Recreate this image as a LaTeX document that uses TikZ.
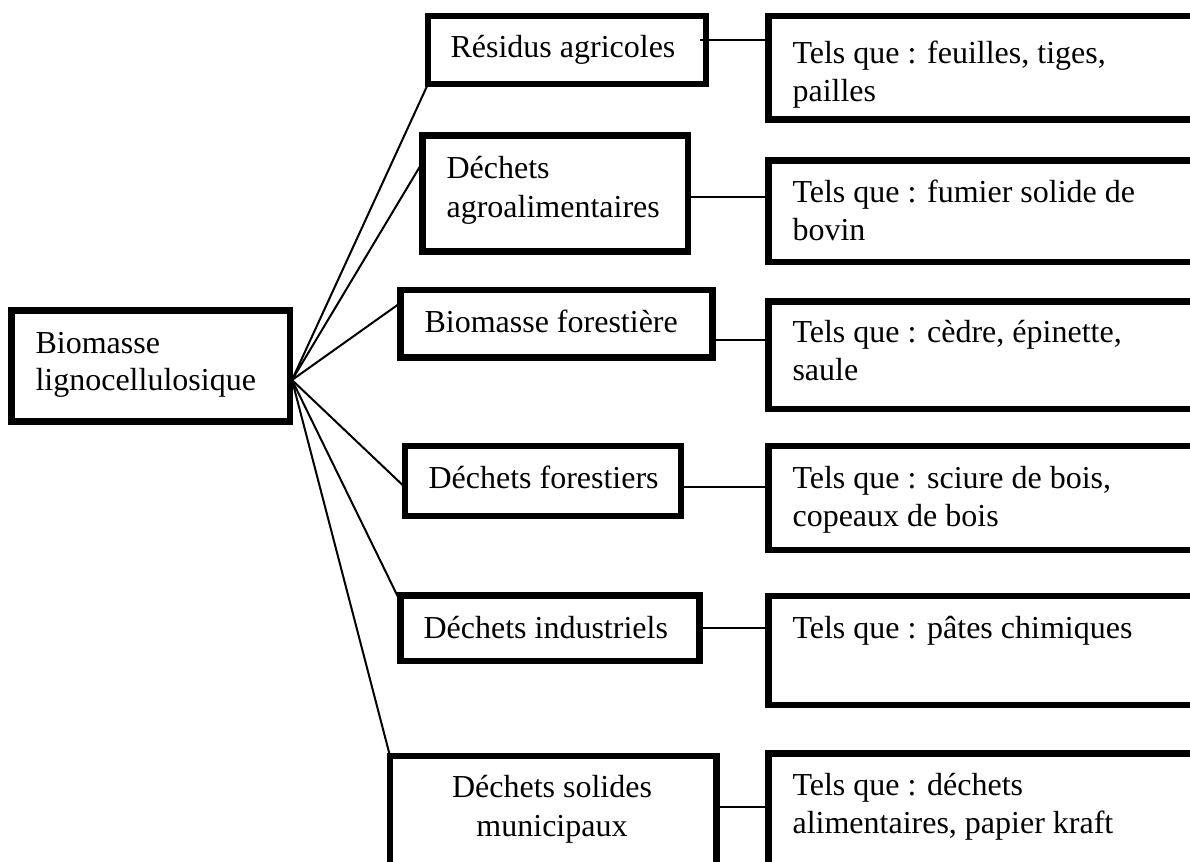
\documentclass[tikz,border=0pt]{standalone}
\usepackage{fontspec}
\setmainfont{Liberation Serif}
\usetikzlibrary{calc}
\begin{document}
\begin{tikzpicture}[x=0.375pt,y=-0.375pt,
  cadre/.style 2 args={draw, line width=2.6pt, anchor=north west,
    inner sep=0pt, outer sep=0pt,
    minimum width=#1*0.375pt, minimum height=#2*0.375pt},
  link/.style={draw, line width=0.75pt},
  txt/.style={inner sep=0pt, anchor=base west, font=\fontsize{12}{14.3}\selectfont},
  txtc/.style={inner sep=0pt, anchor=base, font=\fontsize{12}{14.8}\selectfont}]
\useasboundingbox (0,0) rectangle (1190,861);
\fill[white] (0,0) rectangle (1190,861);
\clip (0,0) rectangle (1190,861);

% root
\node[cadre={278.5}{111}] (main) at (11.5,310.5) {};
\node[txt, font=\fontsize{12}{13.9}\selectfont] (maint) at (35,353)
  {\begin{tabular}[t]{@{}l@{}}Biomasse\\lignocellulosique\end{tabular}};

% categories
\node[cadre={278}{68}]     (r1) at (428,16) {};
\node[cadre={265.5}{116}]  (r2) at (422.5,135.5) {};
\node[cadre={312}{67.5}]   (r3) at (400.5,290) {};
\node[cadre={276}{70}]     (r4) at (405,446) {};
\node[cadre={299}{65.5}]   (r5) at (400.5,595.5) {};
\node[cadre={326.5}{124}]  (r6) at (390,756) {};

\node[txt] (r1t) at (450,57) {Résidus agricoles};
\node[txt, font=\fontsize{12}{14.7}\selectfont] (r2t) at (446,178)
  {\begin{tabular}[t]{@{}l@{}}Déchets\\agroalimentaires\end{tabular}};
\node[txt] (r3t) at (424,332) {Biomasse forestière};
\node[txt] (r4t) at (428,488) {Déchets forestiers};
\node[txt] (r5t) at (423,638) {Déchets industriels};
\node[txtc] (r6t) at (552,797)
  {\begin{tabular}[t]{@{}c@{}}Déchets solides\\municipaux\end{tabular}};

% examples
\node[cadre={441.5}{103.5}] (t1) at (768.5,16) {};
\node[cadre={441.5}{101.5}] (t2) at (768.5,160.5) {};
\node[cadre={441.5}{107.5}] (t3) at (768.5,301.5) {};
\node[cadre={441.5}{104}]   (t4) at (768.5,446) {};
\node[cadre={441.5}{109}]   (t5) at (768.5,596) {};
\node[cadre={441.5}{130}]   (t6) at (768.5,753.5) {};

\node[txt] (t1t) at (792,63)
  {\begin{tabular}[t]{@{}l@{}}Tels que : feuilles, tiges,\\pailles\end{tabular}};
\node[txt] (t2t) at (792,202)
  {\begin{tabular}[t]{@{}l@{}}Tels que : fumier solide de\\bovin\end{tabular}};
\node[txt] (t3t) at (792,342)
  {\begin{tabular}[t]{@{}l@{}}Tels que : cèdre, épinette,\\saule\end{tabular}};
\node[txt] (t4t) at (792,488)
  {\begin{tabular}[t]{@{}l@{}}Tels que : sciure de bois,\\copeaux de bois\end{tabular}};
\node[txt] (t5t) at (792,638) {Tels que : pâtes chimiques};
\node[txt] (t6t) at (792,795)
  {\begin{tabular}[t]{@{}l@{}}Tels que : déchets\\alimentaires, papier kraft\end{tabular}};

% fan of connectors from the root
\coordinate (hub) at (292,380);
\draw[link] (hub) -- (r1.south west);
\draw[link] (hub) -- ($(r2.north west)!0.23!(r2.south west)$);
\draw[link] (hub) -- ($(r3.north west)!0.19!(r3.south west)$);
\draw[link] (hub) -- ($(r4.north west)!0.59!(r4.south west)$);
\draw[link] (hub) -- ($(r5.north west)!0.10!(r5.south west)$);
\draw[link] (hub) -- (r6.north west);

% category to example connectors
\coordinate (a1) at ($(r1.north east)!0.36!(r1.south east)+(-6,0)$);
\coordinate (a2) at ($(r2.north east)!0.53!(r2.south east)$);
\coordinate (a3) at ($(r3.north east)!0.74!(r3.south east)$);
\coordinate (a4) at ($(r4.north east)!0.586!(r4.south east)$);
\coordinate (a5) at ($(r5.north east)!0.496!(r5.south east)$);
\coordinate (a6) at ($(r6.north east)!0.41!(r6.south east)$);
\draw[link] (a1) -- (a1 -| t1.west);
\draw[link] (a2) -- (a2 -| t2.west);
\draw[link] (a3) -- (a3 -| t3.west);
\draw[link] (a4) -- (a4 -| t4.west);
\draw[link] (a5) -- (a5 -| t5.west);
\draw[link] (a6) -- (a6 -| t6.west);
\end{tikzpicture}
\end{document}
